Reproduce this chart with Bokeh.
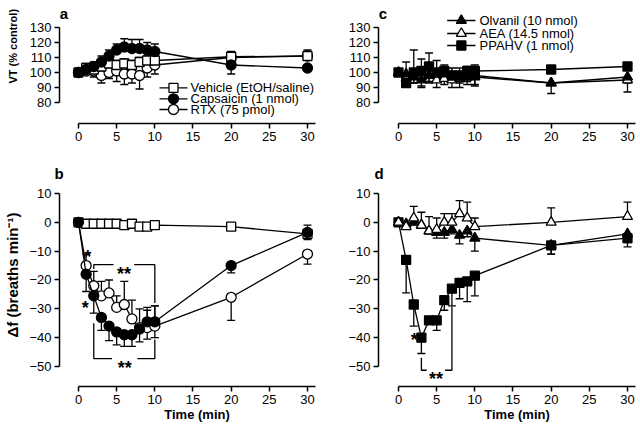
import math
from bokeh.plotting import figure
from bokeh.layouts import gridplot
from bokeh.models import ColumnDataSource, Whisker, TeeHead, Title, FixedTicker
from bokeh.embed import file_html
from bokeh.resources import INLINE
from bokeh.core.properties import value

FONT = "Liberation Sans"
LW = 1.3

time = [0, 1, 2, 3, 4, 5, 6, 7, 8, 9, 10, 20, 30]
x_ticks = [0, 5, 10, 15, 20, 25, 30]
top_ticks = [80, 90, 100, 110, 120, 130]
bottom_ticks = [-50, -40, -30, -20, -10, 0, 10]

# ---- panel a : VT (% control)
a_vehicle = [100, 103, 102, 104, 106, 105, 106, 105, 107, 108, 108, 110.5, 111]
a_vehicle_up = [0, 3, 3, 3, 3, 3, 3, 3, 3, 3, 3, 3.5, 4]
a_capsaicin = [100, 102, 104, 107, 111, 115, 117, 116, 116, 115, 114, 105, 103]
a_capsaicin_up = [0, 2, 3, 4, 4, 4, 5.5, 6, 6, 5, 5, 0, 0]
a_capsaicin_dn = [0, 0, 0, 0, 0, 0, 0, 0, 0, 0, 0, 6, 0]
a_rtx = [100, 101, 101, 98, 100, 101, 99, 99, 98, 103, 105, 110, 111]
a_rtx_dn = [0, 2, 4, 5, 4, 7, 7, 6, 9, 6, 6, 0, 0]

# ---- panel b : delta f (breaths/min)
b_vehicle = [0, -0.5, -0.5, -0.5, -0.5, -0.5, -1, -0.5, -1.5, -1.5, -1, -1.5, -4]
b_vehicle_up = [0, 0, 0, 0, 0, 0, 0, 0, 0, 0, 0, 0, 3]
b_vehicle_dn = [0, 0, 0, 0, 0, 0, 0, 0, 0, 0, 0, 0, 2]
b_capsaicin = [0, -18, -25.5, -33, -36, -38, -39, -39, -37, -34.5, -34.5, -15, -3.5]
b_capsaicin_up = [0, 0, 0, 0, 0, 0, 0, 0, 0, 5, 5.5, 0, 0]
b_capsaicin_dn = [0, 6, 6, 4.5, 5, 4.5, 4, 4, 4.5, 0, 0, 2.5, 0]
b_rtx = [0, -15, -22, -25.5, -24.5, -29.5, -28.5, -33.5, -36.5, -36.5, -36, -26, -11]
b_rtx_up = [0, 4, 5, 5, 4.5, 4, 8, 6.5, 6.5, 6, 7, 0, 0]
b_rtx_dn = [0, 0, 0, 0, 0, 0, 0, 0, 0, 4, 4, 8, 3.5]

# ---- panel c : VT (% control)
c_olvanil = [100, 99, 97, 95, 98, 99, 99, 98, 97, 97, 97, 93, 97]
c_olvanil_dn = [0, 3, 4, 5, 4, 3, 3, 4, 4, 3, 5, 7, 4]
c_aea = [100, 96, 98, 97, 98, 95, 96, 95, 96, 97, 98, 93, 95]
c_aea_dn = [0, 4, 5, 6, 5, 5, 4, 5, 6, 5, 7, 0, 8]
c_ppahv = [100, 93, 100, 101, 104, 100, 101, 98, 98, 101, 101, 102, 104]
c_ppahv_up = [0, 14, 15, 8, 9, 8, 4, 5, 5, 3, 4, 0, 0]

# ---- panel d : delta f (breaths/min)
d_olvanil = [0, -0.5, 0, -1, -3, -3.5, -3.5, -2.5, -4.5, -3, -5.5, -8, -4]
d_olvanil_dn = [0, 0, 0, 1, 1, 2, 2, 1.5, 3, 2, 4.5, 3, 3]
d_aea = [0, -1.5, 1.5, -1, -3, -2.5, 0, 0, 3, 1.5, -1.5, 0, 2]
d_aea_up = [0, 0, 4, 4.5, 5, 4, 3, 3, 4.5, 5.5, 3, 5, 5]
d_ppahv = [0, -13, -28.5, -40, -34, -34, -27, -23, -21, -20.5, -18.5, -8, -5.5]
d_ppahv_dn = [0, 11.5, 7.5, 5.5, 0, 3.5, 3.5, 6, 5.5, 7, 7, 3, 3]

# significance annotations (data coordinates)
b_star_x = [1.2, 0.9]
b_star_y = [-8.75, -26.5]
b_br1_left_x = [2, 2, 4.6]
b_br1_left_y = [-16.2, -14.7, -14.7]
b_br1_right_x = [7.3, 10, 10]
b_br1_right_y = [-14.7, -14.7, -28]
b_br1_text = (5.95, -14.7)
b_br2_left_x = [2, 2, 4.4]
b_br2_left_y = [-35, -47.3, -47.3]
b_br2_right_x = [7.7, 10, 10]
b_br2_right_y = [-47.3, -47.3, -40.6]
b_br2_text = (6.05, -47.3)
d_star_x = [2.05]
d_star_y = [-37.8]
d_br_left_x = [3, 3, 3.7]
d_br_left_y = [-47, -51.3, -51.3]
d_br_right_x = [6.1, 7, 7]
d_br_right_y = [-51.3, -51.3, -29.3]
d_br_text = (4.9, -51.3)


# ---- pixel geometry helpers (page coordinates)
def XL(px):
    return (px - 78) / 7.633


def XR(px):
    return (px - 398) / 7.633


def YT(py):
    return 130 - (py - 27) / 1.5


def YB(py):
    return 10 - (py - 193) / 2.883


def make_fig(left, top):
    if top:
        fh, yr, mbt, mbb, ticks, bounds = 123, (YT(123), YT(0)), 0, 27, top_ticks, (80, 130)
    else:
        fh, yr, mbt, mbb, ticks, bounds = 200, (YB(386), YB(186)), 36, 45, bottom_ticks, (-50, 10)
    if left:
        fw, xr, mbl, mbr = 259, (XL(59), XL(318)), 59, 2
    else:
        fw, xr, mbl, mbr = 259, (XR(378), XR(637)), 58, 3
    p = figure(frame_width=fw, frame_height=fh, x_range=xr, y_range=yr,
               min_border=0, min_border_left=mbl, min_border_right=mbr,
               min_border_top=mbt, min_border_bottom=mbb,
               output_backend="svg", toolbar_location=None, tools="")
    p.outline_line_color = None
    p.grid.visible = False
    p.background_fill_color = "white"
    p.border_fill_color = "white"
    for ax, tk, bd in ((p.xaxis[0], x_ticks, (0, 31)), (p.yaxis[0], ticks, bounds)):
        ax.ticker = FixedTicker(ticks=tk)
        ax.bounds = bd
        ax.axis_line_width = 1.5
        ax.axis_line_color = "black"
        ax.major_tick_line_width = 1.5
        ax.major_tick_line_color = "black"
        ax.major_tick_out = 5
        ax.major_tick_in = 0
        ax.minor_tick_out = 0
        ax.minor_tick_in = 0
        ax.minor_tick_line_color = None
        ax.major_label_text_font = FONT
        ax.major_label_text_font_size = "13px"
        ax.major_label_text_color = "black"
        ax.major_label_standoff = 3
    return p


def series(p, y, marker, filled, size, up=None, dn=None):
    if up:
        idx = [i for i, e in enumerate(up) if e > 0]
        s = ColumnDataSource(dict(t=[time[i] for i in idx], lo=[y[i] for i in idx],
                                  hi=[y[i] + up[i] for i in idx]))
        p.add_layout(Whisker(source=s, base="t", upper="hi", lower="lo",
                             upper_head=TeeHead(size=8, line_width=LW, line_color="black"),
                             lower_head=None, line_width=LW, line_color="black"))
    if dn:
        idx = [i for i, e in enumerate(dn) if e > 0]
        s = ColumnDataSource(dict(t=[time[i] for i in idx], hi=[y[i] for i in idx],
                                  lo=[y[i] - dn[i] for i in idx]))
        p.add_layout(Whisker(source=s, base="t", upper="hi", lower="lo",
                             lower_head=TeeHead(size=8, line_width=LW, line_color="black"),
                             upper_head=None, line_width=LW, line_color="black"))
    src = ColumnDataSource(dict(t=time, y=y))
    p.line("t", "y", source=src, line_width=LW, line_color="black")
    p.scatter("t", "y", source=src, marker=marker, size=size,
              fill_color="black" if filled else "white", line_color="black", line_width=LW)


def frame_text(p, x, y, txt, size="13px", bold=False, align="center", baseline="middle"):
    p.text([x], [y], text=[txt], text_font=value(FONT), text_font_size=size,
           text_font_style="bold" if bold else "normal", text_color="black",
           text_align=align, text_baseline=baseline)


def side_title(p, txt, side, size, offset, standoff, valign):
    p.add_layout(Title(text=txt, align="left", offset=offset, standoff=standoff,
                       vertical_align=valign, text_font=FONT, text_font_size=size,
                       text_font_style="bold", text_color="black"), side)


def legend(p, items, X, Y, x0, x1, tx, rows):
    for (name, marker, filled, size), py in zip(items, rows):
        p.line([X(x0), X(x1)], [Y(py), Y(py)], line_width=LW, line_color="black")
        p.scatter([X((x0 + x1) / 2)], [Y(py)], marker=marker, size=size,
                  fill_color="black" if filled else "white", line_color="black", line_width=LW)
        frame_text(p, X(tx), Y(py), name, align="left")


def stars(p, xs, ys, txt="*"):
    p.text(xs, ys, text=[txt] * len(xs), text_font=value(FONT), text_font_size="18px",
           text_font_style="bold", text_align="center", text_baseline="alphabetic",
           y_offset=9, text_color="black")


def bracket(p, xs, ys):
    p.line(xs, ys, line_width=LW, line_color="black")


# ---- panel a
pa = make_fig(True, True)
series(pa, a_rtx, "circle", False, 10, dn=a_rtx_dn)
series(pa, a_vehicle, "square", False, 9, up=a_vehicle_up)
series(pa, a_capsaicin, "circle", True, 10, up=a_capsaicin_up, dn=a_capsaicin_dn)
legend(pa, [("Vehicle (EtOH/saline)", "square", False, 9),
            ("Capsaicin (1 nmol)", "circle", True, 10),
            ("RTX (75 pmol)", "circle", False, 10)],
       XL, YT, 159, 187, 190, [87.3, 98.3, 109])
frame_text(pa, XL(63.5), YT(12.5), "a", size="15px", bold=True, baseline="alphabetic")
side_title(pa, "VT (% control)", "left", "11px", 40, 11, "top")

# ---- panel b
pb = make_fig(True, False)
series(pb, b_rtx, "circle", False, 10, up=b_rtx_up, dn=b_rtx_dn)
series(pb, b_vehicle, "square", False, 9, up=b_vehicle_up, dn=b_vehicle_dn)
series(pb, b_capsaicin, "circle", True, 10, up=b_capsaicin_up, dn=b_capsaicin_dn)
stars(pb, b_star_x, b_star_y)
bracket(pb, b_br1_left_x, b_br1_left_y)
bracket(pb, b_br1_right_x, b_br1_right_y)
bracket(pb, b_br2_left_x, b_br2_left_y)
bracket(pb, b_br2_right_x, b_br2_right_y)
stars(pb, [b_br1_text[0]], [b_br1_text[1]], "**")
stars(pb, [b_br2_text[0]], [b_br2_text[1]], "**")
side_title(pb, "b", "above", "15px", -5, 10, "bottom")
side_title(pb, "\u0394f (breaths min\u207b\u00b9)", "left", "15px", 49, 7, "top")
side_title(pb, "Time (min)", "below", "13px", 104.8, 0, "top")

# ---- panel c
pc = make_fig(False, True)
series(pc, c_aea, "triangle", False, 10, dn=c_aea_dn)
series(pc, c_olvanil, "triangle", True, 10, dn=c_olvanil_dn)
series(pc, c_ppahv, "square", True, 9, up=c_ppahv_up)
legend(pc, [("Olvanil (10 nmol)", "triangle", True, 10),
            ("AEA (14.5 nmol)", "triangle", False, 10),
            ("PPAHV (1 nmol)", "square", True, 9)],
       XR, YT, 446.7, 475, 479, [20, 33, 45])
frame_text(pc, XR(382.5), YT(13), "c", size="15px", bold=True, baseline="alphabetic")

# ---- panel d
pd_ = make_fig(False, False)
series(pd_, d_ppahv, "square", True, 9, dn=d_ppahv_dn)
series(pd_, d_olvanil, "triangle", True, 10, dn=d_olvanil_dn)
series(pd_, d_aea, "triangle", False, 10, up=d_aea_up)
stars(pd_, d_star_x, d_star_y)
bracket(pd_, d_br_left_x, d_br_left_y)
bracket(pd_, d_br_right_x, d_br_right_y)
stars(pd_, [d_br_text[0]], [d_br_text[1]], "**")
side_title(pd_, "d", "above", "15px", -4, 10, "bottom")
side_title(pd_, "Time (min)", "below", "13px", 105.8, 0, "top")

grid = gridplot([[pa, pc], [pb, pd_]], toolbar_location=None)

open("out.html", "w").write(file_html(grid, INLINE))
